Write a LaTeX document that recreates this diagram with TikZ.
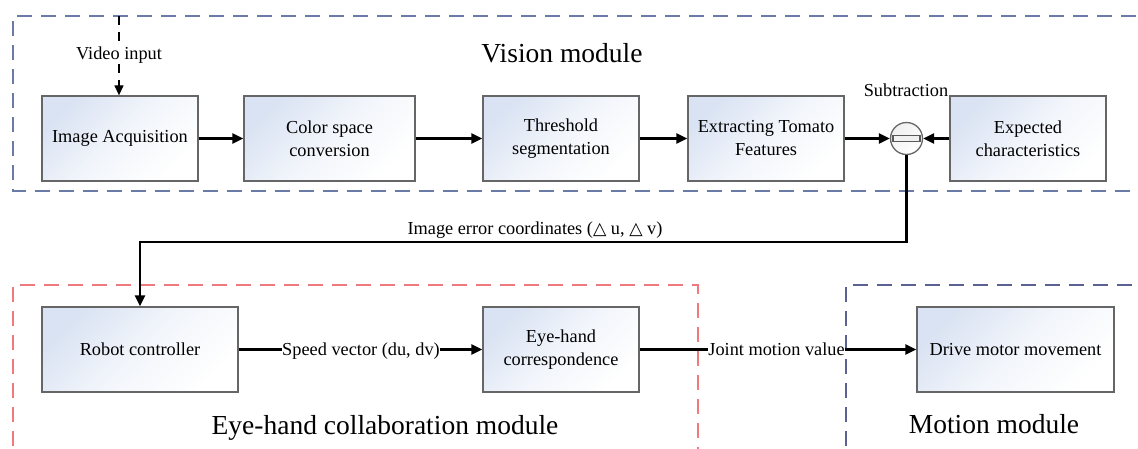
\documentclass[tikz,border=0pt]{standalone}
\usepackage{fontspec}
\setmainfont{Liberation Serif}
\newfontfamily\symfnt{DejaVu Sans}[Scale=0.95]
\usetikzlibrary{arrows.meta,calc}

\definecolor{visionblue}{HTML}{6A7BA8}
\definecolor{motionblue}{HTML}{5C6194}
\definecolor{collabred}{HTML}{EE7A80}
\definecolor{boxedge}{HTML}{666666}
\definecolor{boxtint}{HTML}{DAE3F3}

\begin{document}
\begin{tikzpicture}[x=1pt,y=-1pt,
  every node/.style={font=\fontsize{18.3}{23}\selectfont},
  titlefont/.style={font=\fontsize{27.5}{33}\selectfont},
  procbox/.style={draw=boxedge, line width=1.3pt, top color=boxtint,
    bottom color=white, middle color=boxtint!35!white, shading angle=45,
    minimum height=85pt, align=center, inner sep=2pt},
  modframe/.style={line width=1.4pt, dash pattern=on 15pt off 9pt},
  flow/.style={draw=black, line width=2.2pt,
    -{Triangle[length=11pt,width=10pt]}},
  vidflow/.style={draw=black, line width=1.3pt, dash pattern=on 9pt off 7pt,
    -{Triangle[length=10pt,width=9pt]}},
  onlinelabel/.style={fill=white, inner sep=0.5pt, anchor=base},
  plainlabel/.style={inner sep=0pt, anchor=base}
]
\useasboundingbox (0,0) rectangle (1138,449);
\clip (0,0) rectangle (1138,449);

% module frames
\draw[modframe, draw=visionblue] (1160,16) -- (13,16) -- (13,191) -- (1160,191);
\draw[modframe, draw=collabred] (13,470) -- (13,285) -- (698,285) -- (698,470);
\draw[modframe, draw=motionblue] (846,470) -- (846,285) -- (1160,285);

% module titles
\node[titlefont, plainlabel] (visiontitle) at (562,63) {Vision module};
\node[titlefont, plainlabel] (collabtitle) at (385,434) {Eye-hand collaboration module};
\node[titlefont, plainlabel] (motiontitle) at (994,433) {Motion module};

% vision chain
\node[procbox, minimum width=156pt] (acq) at (120,138.5) {Image Acquisition};
\node[procbox, minimum width=171pt] (csc) at (329.5,138.5) {Color space\\conversion};
\node[procbox, minimum width=156pt] (thr) at (561,138.5) {Threshold\\segmentation};
\node[procbox, minimum width=156pt] (ext) at (766,138.5) {Extracting Tomato\\Features};
\node[procbox, minimum width=156pt] (exp) at (1028,138.5) {Expected\\characteristics};

% subtraction junction
\node[circle, draw=boxedge, line width=1.3pt, top color=gray!12, bottom color=white,
  shading angle=45, minimum size=32pt, inner sep=0pt] (sub) at (906.5,138.5) {};
\node[rectangle, draw=black!65, line width=1.1pt, fill=gray!12,
  minimum width=27pt, minimum height=6pt, inner sep=0pt] (subbar) at (sub.center) {};
\node[plainlabel] (sublbl) at (906,96.5) {Subtraction};

% eye-hand and motion chain
\node[procbox, minimum width=196pt] (rob) at (140,349.5) {Robot controller};
\node[procbox, minimum width=156pt] (ehc) at (561,349.5) {Eye-hand\\correspondence};
\node[procbox, minimum width=197pt] (drv) at (1015.5,349.5) {Drive motor movement};

% video input
\coordinate (vin) at (119,16);
\draw[vidflow] (vin) -- (vin |- acq.north);
\node[onlinelabel] (vinlbl) at (119,60) {Video input};

% connectors
\draw[flow] (acq) -- (csc);
\draw[flow] (csc) -- (thr);
\draw[flow] (thr) -- (ext);
\draw[flow] (ext) -- (sub);
\draw[flow] (exp) -- (sub);

\coordinate (errlvl) at (0,242);
\draw[flow, line width=2.4pt] (sub.south) -- (sub.south |- errlvl) -| (rob.north);
\node[plainlabel] (errlbl) at (535,234.5)
  {Image error coordinates ({\symfnt △} u, {\symfnt △} v)};

\draw[flow] (rob) -- (ehc);
\node[onlinelabel] (spdlbl) at (361,355.5) {Speed vector (du, dv)};
\draw[flow] (ehc) -- (drv);
\node[onlinelabel] (jntlbl) at (776.5,355.5) {Joint motion value};
\end{tikzpicture}
\end{document}
